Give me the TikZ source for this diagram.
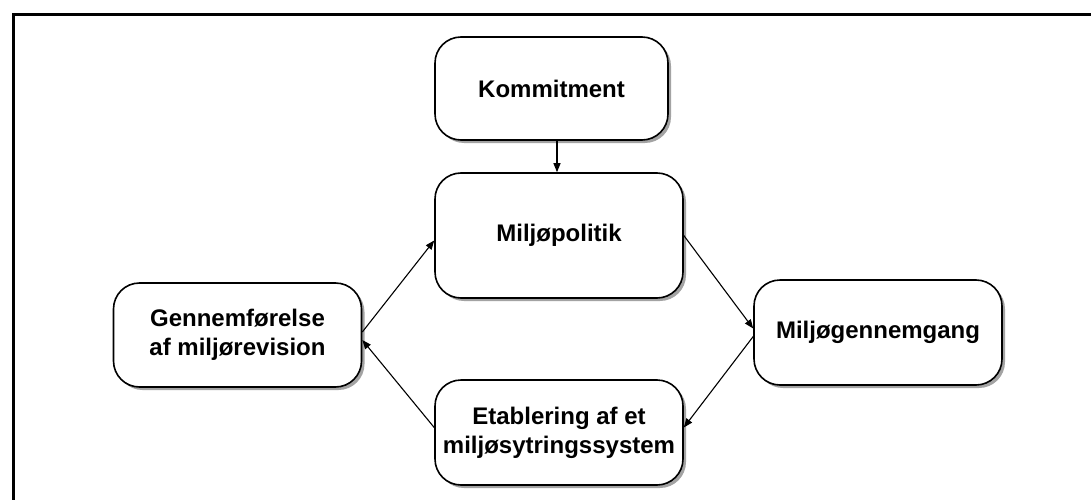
\documentclass[tikz,border=0pt]{standalone}
\usepackage{fontspec}
\setmainfont{Liberation Sans}
\usepackage{tikz}
\usetikzlibrary{arrows.meta,shadows}

\tikzset{
  box/.style={draw, line width=1.6pt, rounded corners=26pt, fill=white,
    drop shadow={shadow xshift=3pt, shadow yshift=-3pt, fill=black!45, opacity=0.8},
    align=center, inner sep=2pt, minimum width=248pt, minimum height=105pt,
    font=\fontsize{24}{29}\selectfont\bfseries},
  link/.style={line width=1.1pt, -{Triangle[length=9pt,width=7pt]}}
}

\begin{document}
\begin{tikzpicture}[x=1pt, y=-1pt]
    \useasboundingbox (0,0) rectangle (1091,500);

    % Frame
    \draw[line width=3pt] (13,515) -- (13,15) -- (1100,15);

    % Nodes
    \node[box, minimum width=233pt, minimum height=103pt] (komm) at (551.5,88.5) {Kommitment};
    \node[box, minimum height=125pt] (pol) at (559,235.5) {Miljøpolitik};
    \node[box, minimum height=104pt] (rev) at (237.5,335) {Gennemførelse\\af miljørevision};
    \node[box] (etab) at (559,432.5) {Etablering af et\\miljøsytringssystem};
    \node[box] (gennem) at (878,332.5) {Miljøgennemgang};

    % Edges
    \draw[link] (komm.south -| 557,0) -- (pol.north -| 557,0);
    \draw[link] ([yshift=3pt]rev.east) -- ([yshift=-5pt]pol.west);
    \draw[link] (pol.east) -- ([yshift=4pt]gennem.west);
    \draw[link] ([yshift=-4pt]gennem.west) -- ([yshift=5pt]etab.east);
    \draw[link] ([yshift=5pt]etab.west) -- ([yshift=-5pt]rev.east);
\end{tikzpicture}
\end{document}
